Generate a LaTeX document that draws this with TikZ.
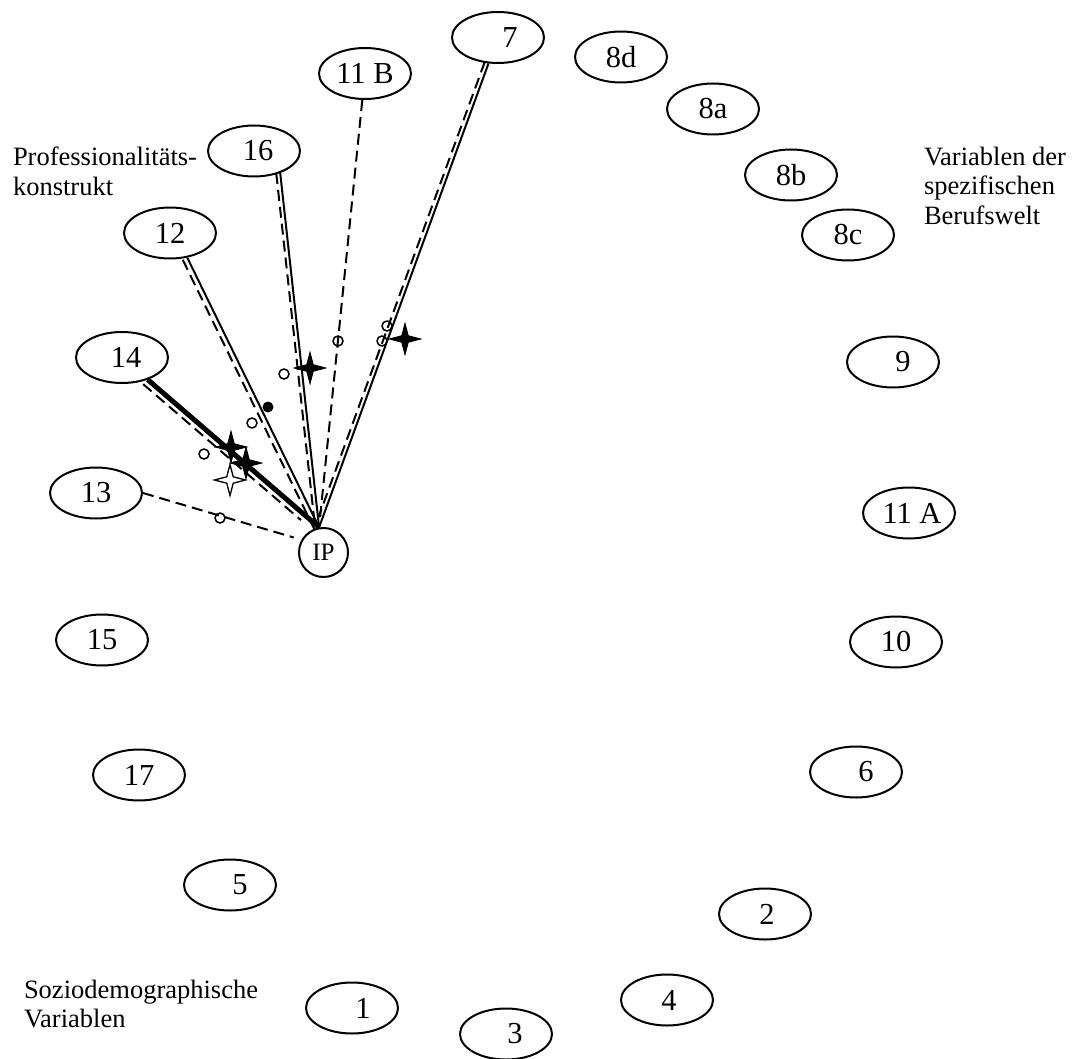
\documentclass[tikz,border=0pt]{standalone}
\usepackage{fontspec}
\setmainfont{Liberation Serif}
\usetikzlibrary{shapes.geometric}

\tikzset{every picture/.style={line width=2pt}}
\tikzset{
  var/.style={ellipse, draw, minimum width=92pt, minimum height=51pt, inner sep=0pt,
    font=\fontsize{30.5}{36}\selectfont},
  ipnode/.style={circle, draw, minimum size=49pt, inner sep=0pt,
    font=\fontsize{25}{28}\selectfont},
  side/.style={align=left, inner sep=0pt, anchor=north west,
    font=\fontsize{26.5}{29.5}\selectfont},
  dlink/.style={dash pattern=on 11pt off 6pt},
  odot/.style={circle, draw, line width=1.5pt, minimum size=10pt, inner sep=0pt},
  fdot/.style={circle, fill, minimum size=11pt, inner sep=0pt},
  sig/.style={star, star points=4, star point ratio=3.4, minimum size=31pt,
    inner sep=0pt, draw, line width=1pt, fill=black},
  nsig/.style={sig, fill=white, line width=1.3pt}
}

\begin{document}
\begin{tikzpicture}[x=1pt, y=-1pt]
    \useasboundingbox (0,0) rectangle (1076,1059);

    \node[ipnode] (ip) at (323.5,552.5) {IP};

    \node[var] (n7) at (498,37.5) {\hspace{24pt}7};
    \node[var] (n11b) at (365,73.5) {11 B};
    \node[var] (n16) at (254,151) {\hspace{8pt}16};
    \node[var] (n12) at (170,233) {12};
    \node[var] (n14) at (122,357.5) {\hspace{8pt}14};
    \node[var] (n13) at (96,493) {13};
    \node[var] (n15) at (102,640) {15};
    \node[var] (n17) at (139,775) {17};
    \node[var] (n5) at (230,885) {\hspace{20pt}5};
    \node[var] (n1) at (352,1008) {\hspace{22pt}1};
    \node[var] (n3) at (506,1034) {\hspace{18pt}3};
    \node[var] (n4) at (667,1000) {\hspace{4pt}4};
    \node[var] (n2) at (765,914) {\hspace{4pt}2};
    \node[var] (n6) at (856,772) {\hspace{20pt}6};
    \node[var] (n10) at (896,642) {10};
    \node[var] (n11a) at (909,513) {\hspace{6pt}11 A};
    \node[var] (n9) at (893,362) {\hspace{20pt}9};
    \node[var] (n8c) at (848,235) {8c};
    \node[var] (n8b) at (791,175) {8b};
    \node[var] (n8a) at (713,109) {8a};
    \node[var] (n8d) at (621,57) {8d};

    \node[side] (prof) at (12,146) {Professionalitäts-\\konstrukt};
    \node[side] (beruf) at (923,146) {Variablen der\\spezifischen\\Berufswelt};
    \node[side] (sozio) at (23,979) {Soziodemographische\\Variablen};

    \draw (n7) -- (ip.100);
    \draw[dlink, transform canvas={xshift=-3.8pt, yshift=1.4pt}] (n7) -- (ip.100);
    \draw[dlink] (n11b) -- (ip.100);
    \draw (n16.320) -- (ip.100);
    \draw[dlink, transform canvas={xshift=-4pt}] (n16.320) -- (ip.100);
    \draw (n12.305) -- (ip.100);
    \draw[dlink, transform canvas={xshift=-4.5pt, yshift=-2.2pt}] (n12.305) -- (ip.100);
    \draw[line width=5pt] (n14) -- (ip.100);
    \draw[dlink, shorten >=18pt, transform canvas={xshift=-4.5pt, yshift=-4.5pt}] (n14) -- (ip.100);
    \draw[dlink, shorten >=8pt] (n13.east) -- (ip.150);

    \node[odot] (o13) at (220,518) {};
    \node[odot] (o14) at (204,454) {};
    \node[odot] (o12) at (252,423) {};
    \node[odot] (o16) at (284,374) {};
    \node[odot] (o11b) at (338,341) {};
    \node[odot] (o7a) at (387,326) {};
    \node[odot] (o7b) at (382,341) {};
    \node[fdot] (f12) at (268,407) {};
    \node[sig] (s16) at (310,368) {};
    \node[sig] (s7) at (405,339) {};
    \node[sig] (s14a) at (231,447) {};
    \node[sig] (s14b) at (246,463) {};
    \node[nsig] (w14) at (230,480) {};
\end{tikzpicture}
\end{document}
